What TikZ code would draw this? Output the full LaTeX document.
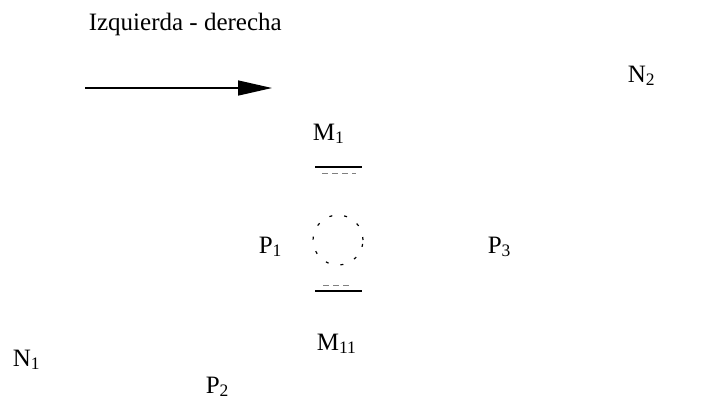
\documentclass[tikz,border=0pt]{standalone}
\usepackage{fontspec}
\setmainfont{Liberation Serif}
\usetikzlibrary{arrows.meta}

\begin{document}
\begin{tikzpicture}[x=0.5pt, y=-0.5pt, thick,
    lbl/.style={anchor=base west, inner sep=0pt, font=\fontsize{12.5}{14}\selectfont},
    plate/.style={line width=1pt},
    trace/.style={gray, line width=0.5pt, dash pattern=on 3pt off 2pt}]
    \useasboundingbox (0,0) rectangle (717,404);

    \node[lbl] (dir) at (88,30) {Izquierda - derecha};
    \coordinate (a0) at (85,88);
    \coordinate (a1) at (272,88);
    \draw[line width=0.75pt, -{Triangle[length=17pt, width=7.5pt]}] (a0) -- (a1);

    \node[lbl] (N2) at (627,82) {N\textsubscript{2}};
    \node[lbl] (N1) at (12,366) {N\textsubscript{1}};

    \node[lbl] (M1) at (312,140) {M\textsubscript{1}};
    \node[lbl] (M11) at (316,350) {M\textsubscript{11}};

    \node[lbl] (P1) at (258,253) {P\textsubscript{1}};
    \node[lbl] (P3) at (487,253) {P\textsubscript{3}};
    \node[lbl] (P2) at (205,393) {P\textsubscript{2}};

    % placas y bola
    \draw[plate] (315,167) -- (362,167);
    \draw[trace] (322,173) -- (356,173);
    \draw[plate] (315,291) -- (362,291);
    \draw[trace] (323,285) -- (350,285);
    \draw[line width=0.6pt, dash pattern=on 1.5pt off 6pt] (338,240) circle[radius=12.5pt];
\end{tikzpicture}
\end{document}
